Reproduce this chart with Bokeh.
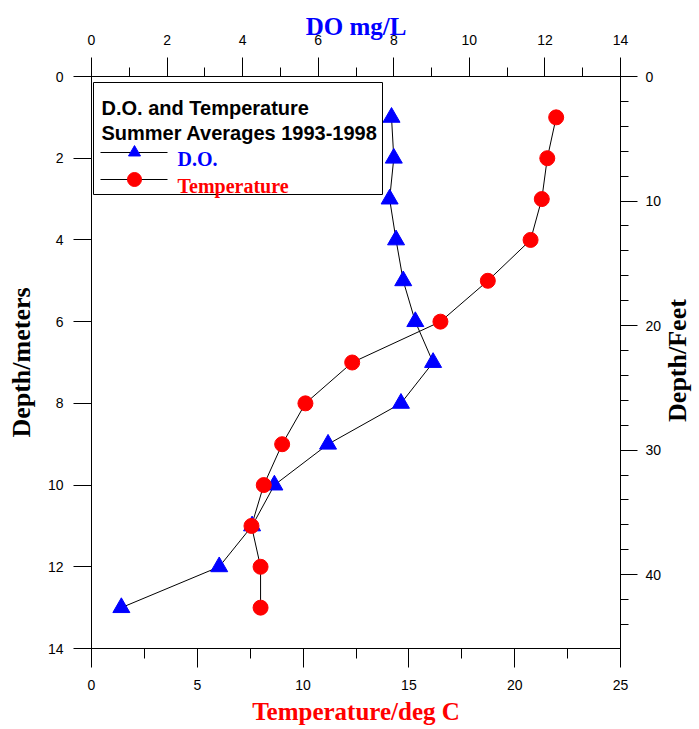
import math
from bokeh.plotting import figure
from bokeh.layouts import row
from bokeh.models import (Range1d, LinearAxis, SingleIntervalTicker, Label)
from bokeh.embed import file_html
from bokeh.resources import INLINE

# ---- data ----
depth_m = [1, 2, 3, 4, 5, 6, 7, 8, 9, 10, 11, 12, 13]
do_mgL = [7.94, 8.00, 7.89, 8.06, 8.25, 8.57, 9.04, 8.19, 6.26, 4.84, 4.25, 3.38, 0.79]
temp_c = [21.96, 21.54, 21.28, 20.75, 18.73, 16.49, 12.32, 10.11, 9.01, 8.14, 7.56, 7.99, 7.99]

temp_range = (0, 25)
do_range = (0, 14)
depth_range = (14, 0)
M_TO_FT = 3.28084

legend_title = ["D.O. and Temperature", "Summer Averages 1993-1998"]
legend_labels = ["D.O.", "Temperature"]
right_title = "Depth/Feet"

BLUE = "#0000FF"
RED = "#FF0000"
SANS = "Liberation Sans"
SERIF = "Liberation Serif"

FW, FH = 529, 572
BL, BT, BR, BB = 91, 76, 42, 81
SIDE_W = 37
TOTAL_H = BT + FH + BB

p = figure(frame_width=FW, frame_height=FH,
           x_range=Range1d(*temp_range), y_range=Range1d(*depth_range),
           output_backend="svg", toolbar_location=None,
           min_border_left=BL, min_border_top=BT,
           min_border_right=BR, min_border_bottom=BB,
           x_axis_location=None, y_axis_location=None)
p.background_fill_color = "white"
p.border_fill_color = "white"
p.outline_line_color = "black"
p.outline_line_width = 1
p.grid.visible = False

p.extra_x_ranges = {"do": Range1d(*do_range)}
p.extra_y_ranges = {"ft": Range1d(depth_range[0] * M_TO_FT, 0)}


def style_axis(ax, tick_out, minor_out, standoff, label_standoff, color, size):
    ax.axis_line_color = "black"
    ax.major_tick_line_color = "black"
    ax.minor_tick_line_color = "black"
    ax.major_tick_in = 0
    ax.minor_tick_in = 0
    ax.major_tick_out = tick_out
    ax.minor_tick_out = minor_out
    ax.major_label_standoff = standoff
    ax.major_label_text_font = SANS
    ax.major_label_text_font_size = "14px"
    ax.major_label_text_color = "black"
    ax.axis_label_text_font = SERIF
    ax.axis_label_text_font_style = "bold"
    ax.axis_label_text_font_size = size
    ax.axis_label_text_color = color
    ax.axis_label_standoff = label_standoff


bottom = LinearAxis(axis_label="Temperature/deg C",
                    ticker=SingleIntervalTicker(interval=5, num_minor_ticks=2))
style_axis(bottom, 19, 10, 12, 5, RED, "25px")
p.add_layout(bottom, "below")

top = LinearAxis(axis_label="DO mg/L", x_range_name="do",
                 ticker=SingleIntervalTicker(interval=2, num_minor_ticks=2))
style_axis(top, 19, 9, 13, -8, BLUE, "25px")
p.add_layout(top, "above")

left = LinearAxis(axis_label="Depth/meters",
                  ticker=SingleIntervalTicker(interval=2, num_minor_ticks=0))
style_axis(left, 18, 0, 10, 9, "black", "26px")
p.add_layout(left, "left")

right = LinearAxis(y_range_name="ft",
                   ticker=SingleIntervalTicker(interval=10, num_minor_ticks=5))
style_axis(right, 17, 8, 8, 0, "black", "26px")
p.add_layout(right, "right")

# ---- series ----
p.line(do_mgL, depth_m, x_range_name="do", line_color="black", line_width=1)
p.line(temp_c, depth_m, line_color="black", line_width=1)
p.scatter(do_mgL, depth_m, x_range_name="do", marker="triangle", size=17,
          fill_color=BLUE, line_color=BLUE)
p.scatter(temp_c, depth_m, marker="circle", size=15,
          fill_color=RED, line_color=RED)


# ---- legend box: pixel offsets inside the frame -> data coordinates ----
def tx(px):
    return temp_range[0] + px * (temp_range[1] - temp_range[0]) / FW


def dy(py):
    return py * depth_range[0] / FH


p.quad(left=[tx(2)], right=[tx(291)], top=[dy(6)], bottom=[dy(118)],
       fill_color="white", fill_alpha=1.0, line_color="black", line_width=1,
       level="overlay")

for i, t in enumerate(legend_title):
    p.add_layout(Label(x=tx(10), y=dy(31 + 25 * i), text=t, text_font=SANS,
                       text_font_style="bold", text_font_size="20px",
                       text_color="black", text_baseline="alphabetic",
                       level="overlay"))

sample_y = [dy(76), dy(103)]
p.segment(x0=[tx(9)] * 2, x1=[tx(76)] * 2, y0=sample_y, y1=sample_y,
          line_color="black", line_width=1, level="overlay")
p.scatter([tx(43)], [sample_y[0]], marker="triangle", size=12,
          fill_color=BLUE, line_color=BLUE, level="overlay")
p.scatter([tx(43)], [sample_y[1]], marker="circle", size=14,
          fill_color=RED, line_color=RED, level="overlay")
for lab, col, base in zip(legend_labels, [BLUE, RED], [82, 109]):
    p.add_layout(Label(x=tx(86), y=dy(base), text=lab, text_font=SERIF,
                       text_font_style="bold", text_font_size="20px",
                       text_color=col, text_baseline="alphabetic",
                       level="overlay"))

# ---- side strip holding the right-hand axis title (reads bottom-to-top) ----
side = figure(width=SIDE_W, height=TOTAL_H, x_range=Range1d(0, SIDE_W),
              y_range=Range1d(TOTAL_H, 0), output_backend="svg",
              toolbar_location=None, min_border=0,
              x_axis_location=None, y_axis_location=None)
side.outline_line_color = None
side.grid.visible = False
side.background_fill_color = "white"
side.border_fill_color = "white"
side.add_layout(Label(x=13, y=BT + FH / 2, text=right_title, angle=math.pi / 2,
                      text_font=SERIF, text_font_style="bold", text_font_size="26px",
                      text_color="black", text_align="center", text_baseline="middle"))

layout = row(p, side, spacing=0)
open("out.html", "w").write(file_html(layout, INLINE))
